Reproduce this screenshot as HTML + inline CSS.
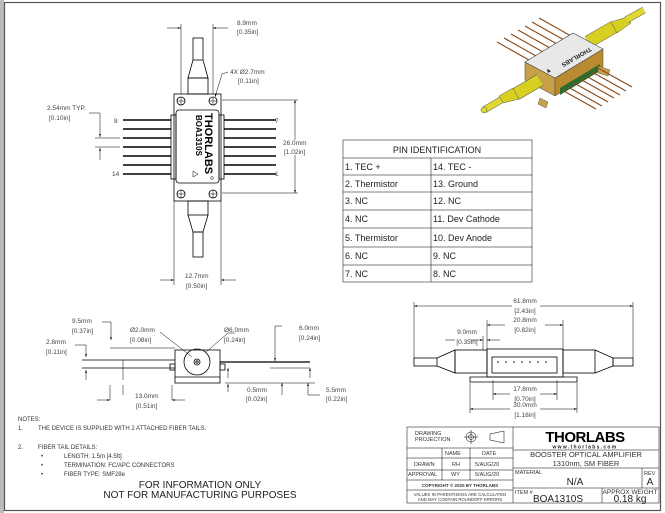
<!DOCTYPE html>
<html><head><meta charset="utf-8"><style>
html,body{margin:0;padding:0;background:#fff;}
svg{display:block;font-family:"Liberation Sans",sans-serif;}
.d{font-size:6.5px;fill:#444;}
.t{font-size:9px;fill:#222;}
.l{stroke:#000;stroke-width:0.8;fill:none;}
.th{stroke:#000;stroke-width:0.5;fill:none;}
</style></head><body>
<svg width="665" height="513" viewBox="0 0 665 513" xmlns="http://www.w3.org/2000/svg">
<defs>
<marker id="a" viewBox="0 0 10 10" refX="10" refY="5" markerWidth="6" markerHeight="6" orient="auto-start-reverse"><path d="M0,2 L10,5 L0,8z" fill="#000"/></marker>
</defs>
<rect x="0" y="0" width="665" height="513" fill="#fff"/>
<rect x="0" y="0" width="4" height="513" fill="#bbb"/>
<rect x="4.5" y="2.5" width="656" height="508" fill="none" stroke="#555" stroke-width="1.2"/>

<!-- TOP VIEW -->
<g class="l">
<rect x="193" y="38" width="10" height="22"/>
<path d="M193,60 L188,78 L208,78 L203,60"/>
<rect x="188" y="78" width="20" height="16"/>
<rect x="174" y="94" width="47" height="107"/>
<rect x="176" y="110" width="43" height="73" rx="3"/>
<circle cx="181" cy="101" r="4"/><circle cx="213" cy="101" r="4"/>
<circle cx="181" cy="194" r="4"/><circle cx="213" cy="194" r="4"/>
<rect x="188" y="201" width="20" height="14"/>
<path d="M188,215 L193,232 L203,232 L208,215"/>
<rect x="193" y="232" width="10" height="25"/>
<rect x="171" y="115" width="5" height="64"/><rect x="219" y="115" width="5" height="64"/>
</g>
<g stroke="#000" stroke-width="0.5">
<path d="M177,101h8M181,97v8M209,101h8M213,97v8M177,194h8M181,190v8M209,194h8M213,190v8"/>
</g>
<g stroke="#000" stroke-width="1.4">
<path d="M123,120h48M123,129h48M123,138h48M123,147h48M123,156h48M123,165h48M123,174h48"/>
<path d="M224,120h52M224,129h52M224,138h52M224,147h52M224,156h52M224,165h52M224,174h52"/>
</g>
<text transform="translate(196,115) rotate(90)" font-size="8" font-weight="bold" fill="#000">BOA1310S</text>
<text transform="translate(205,113) rotate(90)" font-size="11" font-weight="900" fill="#000">THORLABS</text>
<path d="M193,171 l5,3 l-5,3z" class="th"/>
<circle cx="212" cy="178" r="1.3" class="th"/>
<text x="114" y="123" class="d">8</text><text x="112" y="176" class="d">14</text>
<text x="275" y="123" class="d">7</text><text x="275" y="176" class="d" fill="#a33">1</text>
<g class="th">
<path d="M181,24v70M213,24v70"/>
<path d="M167,28h14" marker-end="url(#a)"/><path d="M228,28h-15" marker-end="url(#a)"/>
<path d="M228,72 L222,74 L215,97" marker-end="url(#a)"/>
<path d="M89,113h11v24" marker-end="url(#a)"/><path d="M100,160v-12" marker-end="url(#a)"/>
<path d="M95,138h25M95,147h25"/>
<path d="M222,100h76M222,193h76"/>
<path d="M295,140v-40" marker-end="url(#a)"/><path d="M295,155v38" marker-end="url(#a)"/>
<path d="M174,201v84M221,201v84"/>
<path d="M160,280h14" marker-end="url(#a)"/><path d="M236,280h-15" marker-end="url(#a)"/>
</g>
<text x="237" y="25" class="d">8.9mm</text><text x="237" y="34" class="d">[0.35in]</text>
<text x="230" y="74" class="d">4X Ø2.7mm</text><text x="238" y="83" class="d">[0.11in]</text>
<text x="47" y="110" class="d">2.54mm TYP.</text><text x="49" y="120" class="d">[0.10in]</text>
<text x="283" y="145" class="d">26.0mm</text><text x="284" y="154" class="d">[1.02in]</text>
<text x="185" y="278" class="d">12.7mm</text><text x="186" y="288" class="d">[0.50in]</text>

<!-- PIN TABLE -->
<g class="th" stroke-width="0.8">
<rect x="343" y="140" width="189" height="142"/>
<path d="M343,158h189M343,175h189M343,192h189M343,210h189M343,228h189M343,247h189M343,265h189M431,158v124"/>
</g>
<text x="437" y="153" text-anchor="middle" class="t">PIN IDENTIFICATION</text>
<g class="t">
<text x="345" y="170">1. TEC +</text><text x="433" y="170">14. TEC -</text>
<text x="345" y="187">2. Thermistor</text><text x="433" y="187">13. Ground</text>
<text x="345" y="204">3. NC</text><text x="433" y="204">12. NC</text>
<text x="345" y="222">4. NC</text><text x="433" y="222">11. Dev Cathode</text>
<text x="345" y="241">5. Thermistor</text><text x="433" y="241">10. Dev Anode</text>
<text x="345" y="259">6. NC</text><text x="433" y="259">9. NC</text>
<text x="345" y="277">7. NC</text><text x="433" y="277">8. NC</text>
</g>

<!-- 3D render -->
<g stroke-linecap="butt">
<g stroke="#8a4a1a" stroke-width="1.1">
<path d="M529,60 l-32,-18M536,56 l-32,-18M543,52 l-32,-18M550,48 l-32,-18M557,44 l-32,-18M564,40 l-32,-18M571,36 l-32,-18"/>
</g>
<!-- right fiber -->
<path d="M588,42 L614,27" stroke="#555" stroke-width="13"/>
<path d="M588,42 L614,27" stroke="#d8d020" stroke-width="12"/>
<path d="M611,22 L627,17 L631,23 L617,33z" fill="#d8d020" stroke="#555" stroke-width="0.5"/>
<path d="M626,20 L644,10" stroke="#555" stroke-width="7"/>
<path d="M626,20 L644,10" stroke="#e0d830" stroke-width="6"/>
<!-- body -->
<path d="M525,62 L555,78 L555,96 L525,80z" fill="#c9a04a" stroke="#444" stroke-width="0.5"/>
<path d="M555,78 L603,49 L603,67 L555,96z" fill="#b98a30" stroke="#444" stroke-width="0.5"/>
<path d="M560,88 L600,64 L600,71 L560,95z" fill="#2e6b2e"/>
<path d="M525,62 L573,33 L603,49 L555,78z" fill="#e8e8e8" stroke="#444" stroke-width="0.6"/>
<text transform="translate(590,47) rotate(150)" font-size="6" font-weight="bold" fill="#222">THORLABS</text>
<path d="M551,71 l-4,-2 l1,4z" fill="#222"/>
<path d="M540,98 L548,102 L546,108 L538,104z" fill="#c9a04a" stroke="#444" stroke-width="0.4"/>
<path d="M598,66 L610,70 L608,76 L598,73z" fill="#c9a04a" stroke="#444" stroke-width="0.4"/>
<g stroke="#8a4a1a" stroke-width="1.1">
<path d="M562,90 l34,19M568,87 l34,19M574,83 l34,19M580,79 l34,19M586,76 l34,19M592,72 l34,19M598,68 l34,19"/>
</g>
<!-- left fiber -->
<path d="M540,80 L516,94" stroke="#555" stroke-width="13"/>
<path d="M540,80 L516,94" stroke="#d8d020" stroke-width="12"/>
<path d="M513,88 L499,96 L503,103 L519,99z" fill="#d8d020" stroke="#555" stroke-width="0.5"/>
<path d="M501,100 L484,110" stroke="#555" stroke-width="7"/>
<path d="M501,100 L484,110" stroke="#e0d830" stroke-width="6"/>
<circle cx="484" cy="110" r="3" fill="#e0d830" stroke="#555" stroke-width="0.5"/>
</g>

<!-- SIDE VIEW -->
<g class="l">
<rect x="175" y="350" width="45" height="33"/>
<circle cx="197" cy="362" r="13"/><circle cx="197" cy="362" r="3"/><circle cx="197" cy="362" r="1.2"/>
<path d="M175,377h45"/>
<path d="M82,360h93M82,368h93"/>
<path d="M220,362h90" stroke-width="1.3"/>
<rect x="170" y="364" width="5" height="6"/><rect x="220" y="364" width="5" height="6"/>
</g>
<g class="th">
<path d="M123,360v20M123,385v10"/>
<path d="M102,322h9v18" marker-end="url(#a)"/><path d="M110,348h65"/>
<path d="M75,345h11v12" marker-end="url(#a)"/><path d="M86,380v-10" marker-end="url(#a)"/>
<path d="M160,332 L192,357"/><path d="M235,333 L228,333 L206,352"/>
<path d="M282,326h-7v35" marker-end="url(#a)"/><path d="M310,378v-10" marker-end="url(#a)"/>
<path d="M270,368h40M225,383h90"/>
<path d="M228,378v-10" marker-end="url(#a)"/><path d="M228,392v-8" marker-end="url(#a)"/>
<path d="M282,395v-12" marker-end="url(#a)"/>
<path d="M320,395h-12v-12" marker-end="url(#a)"/>
<path d="M110,385v15M172,385v15"/>
<path d="M97,400h13" marker-end="url(#a)"/><path d="M185,400h-13" marker-end="url(#a)"/>
</g>
<text x="72" y="323" class="d">9.5mm</text><text x="72" y="333" class="d">[0.37in]</text>
<text x="130" y="332" class="d">Ø2.0mm</text><text x="130" y="342" class="d">[0.08in]</text>
<text x="224" y="332" class="d">Ø6.0mm</text><text x="224" y="342" class="d">[0.24in]</text>
<text x="299" y="330" class="d">6.0mm</text><text x="299" y="340" class="d">[0.24in]</text>
<text x="46" y="344" class="d">2.8mm</text><text x="46" y="354" class="d">[0.11in]</text>
<text x="135" y="398" class="d">13.0mm</text><text x="136" y="408" class="d">[0.51in]</text>
<text x="247" y="392" class="d">0.5mm</text><text x="246" y="401" class="d">[0.02in]</text>
<text x="326" y="392" class="d">5.5mm</text><text x="326" y="401" class="d">[0.22in]</text>

<!-- NOTES -->
<g font-size="6" fill="#333">
<text x="18" y="421">NOTES:</text>
<text x="18" y="430">1.</text><text x="38" y="430">THE DEVICE IS SUPPLIED WITH 2 ATTACHED FIBER TAILS.</text>
<text x="18" y="449">2.</text><text x="38" y="449">FIBER TAIL DETAILS:</text>
<text x="41" y="458">•</text><text x="64" y="458">LENGTH: 1.5m [4.5ft]</text>
<text x="41" y="467">•</text><text x="64" y="467">TERMINATION: FC/APC CONNECTORS</text>
<text x="41" y="476">•</text><text x="64" y="476">FIBER TYPE: SMF28e</text>
</g>
<text x="200" y="488" text-anchor="middle" font-size="10" fill="#222">FOR INFORMATION ONLY</text>
<text x="200" y="498" text-anchor="middle" font-size="10" fill="#222">NOT FOR MANUFACTURING PURPOSES</text>

<!-- RIGHT VIEW -->
<g class="l">
<rect x="414" y="358" width="23" height="8"/>
<path d="M437,358 L455,350 L455,373 L437,366"/>
<rect x="455" y="350" width="32" height="23"/>
<rect x="487" y="349" width="76" height="28"/>
<rect x="492" y="357" width="65" height="16"/>
<path d="M470,377h107v5h-107z"/>
<rect x="563" y="350" width="32" height="23"/>
<path d="M595,350 L613,358 L613,366 L595,373"/>
<rect x="613" y="358" width="20" height="8"/>
</g>
<g fill="#000"><circle cx="498" cy="362" r="0.8"/><circle cx="506" cy="362" r="0.8"/><circle cx="514" cy="362" r="0.8"/><circle cx="522" cy="362" r="0.8"/><circle cx="530" cy="362" r="0.8"/><circle cx="538" cy="362" r="0.8"/><circle cx="546" cy="362" r="0.8"/></g>
<g class="th">
<path d="M414,302v56M633,302v56"/>
<path d="M512,306h-98" marker-end="url(#a)"/><path d="M540,306h93" marker-end="url(#a)"/>
<path d="M487,320v30M563,320v30"/>
<path d="M505,325h-18" marker-end="url(#a)"/><path d="M545,325h18" marker-end="url(#a)"/>
<path d="M483,336v14"/>
<path d="M445,340h10M470,340h13" marker-end="url(#a)"/><path d="M500,340h-13" marker-end="url(#a)"/>
<path d="M493,380v20M557,380v20M470,383v30M577,383v30"/>
<path d="M510,394h-17" marker-end="url(#a)"/><path d="M540,394h17" marker-end="url(#a)"/>
<path d="M510,409h-40" marker-end="url(#a)"/><path d="M540,409h37" marker-end="url(#a)"/>
</g>
<g class="d" text-anchor="middle">
<text x="525" y="303">61.8mm</text><text x="525" y="313">[2.43in]</text>
<text x="525" y="322">20.8mm</text><text x="525" y="332">[0.82in]</text>
<text x="467" y="334">9.0mm</text><text x="467" y="344">[0.35in]</text>
<text x="525" y="391">17.8mm</text><text x="525" y="401">[0.70in]</text>
<text x="525" y="407">30.0mm</text><text x="525" y="417">[1.18in]</text>
</g>

<!-- TITLE BLOCK -->
<g class="th" stroke-width="0.8">
<rect x="407" y="427" width="252" height="76"/>
<path d="M513,427v76"/>
<path d="M407,448h106M407,458h106M407,470h106M407,480h106M407,490h106"/>
<path d="M442,448v32M470,448v32"/>
<path d="M513,450h146M513,468h146M513,488h146M642,468v20M602,488v15"/>
</g>
<g font-size="5.5" fill="#333">
<text x="415" y="435">DRAWING</text><text x="415" y="441">PROJECTION</text>
<text x="445" y="455">NAME</text><text x="482" y="455">DATE</text>
<text x="414" y="466">DRAWN</text><text x="452" y="466">RH</text><text x="475" y="466">5/AUG/20</text>
<text x="408" y="476">APPROVAL</text><text x="451" y="476">WY</text><text x="475" y="476">5/AUG/20</text>
<text x="460" y="487" text-anchor="middle" font-size="4.5" font-weight="bold">COPYRIGHT © 2020 BY THORLABS</text>
<text x="460" y="496" text-anchor="middle" font-size="4.3">VALUES IN PARENTHESIS ARE CALCULATED</text>
<text x="460" y="501" text-anchor="middle" font-size="4.3">AND MAY CONTAIN ROUNDOFF ERRORS</text>
<text x="515" y="474">MATERIAL</text><text x="644" y="475">REV</text>
<text x="515" y="494">ITEM #</text><text x="630" y="494" text-anchor="middle" font-size="6.5">APPROX WEIGHT</text>
</g>
<g class="th"><circle cx="471" cy="437" r="5"/><circle cx="471" cy="437" r="2.5"/><path d="M464,437h14M471,430v14"/><path d="M490,434l14,-3v12l-14,-3z"/></g>
<text x="585" y="442" text-anchor="middle" font-size="15" font-weight="900" fill="#000" letter-spacing="-0.5">THORLABS</text>
<text x="585" y="448.5" text-anchor="middle" font-size="5" font-weight="bold" fill="#222" letter-spacing="1.3">www.thorlabs.com</text>
<text x="586" y="457" text-anchor="middle" font-size="7.5" fill="#333">BOOSTER OPTICAL AMPLIFIER</text>
<text x="586" y="466" text-anchor="middle" font-size="7.5" fill="#333">1310nm, SM FIBER</text>
<text x="575" y="485" text-anchor="middle" font-size="10" fill="#222">N/A</text>
<text x="650" y="485" text-anchor="middle" font-size="10" fill="#222">A</text>
<text x="558" y="502" text-anchor="middle" font-size="10" fill="#222">BOA1310S</text>
<text x="630" y="502" text-anchor="middle" font-size="10" fill="#222">0.18 kg</text>
</svg>
</body></html>
